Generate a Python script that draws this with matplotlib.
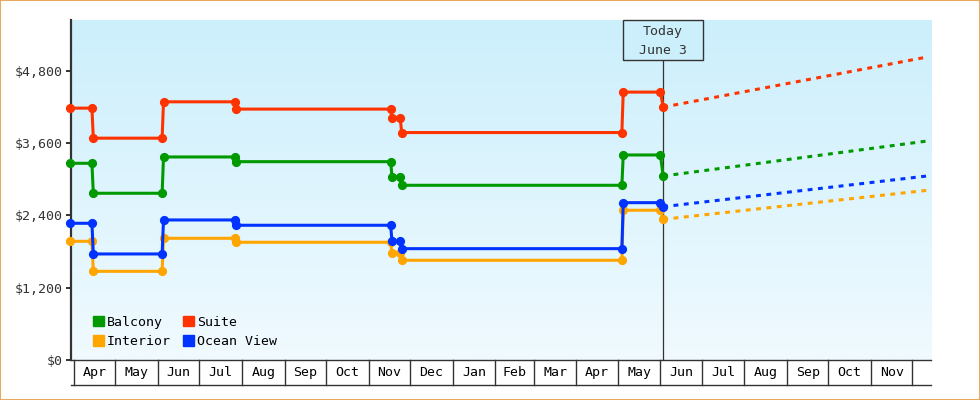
import matplotlib
matplotlib.use("Agg")
import matplotlib.pyplot as plt
import matplotlib.dates as mdates
import matplotlib.transforms as mtransforms
from matplotlib.patches import Patch, Rectangle
from matplotlib.offsetbox import DrawingArea, AnnotationBbox
from matplotlib.text import Text
from matplotlib.ticker import FuncFormatter
import numpy as np
import pandas as pd

plt.rcParams['font.family'] = ['DejaVu Sans Mono', 'DejaVu Sans']

# price history (same change dates for every cabin type)
dates = pd.to_datetime([
    "2014-03-29", "2014-04-14", "2014-04-15", "2014-06-04", "2014-06-05",
    "2014-07-27", "2014-07-28", "2014-11-17", "2014-11-18", "2014-11-24",
    "2014-11-25", "2015-05-04", "2015-05-05", "2015-06-01", "2015-06-03",
])
interior = [1969, 1969, 1471, 1471, 2019, 2019, 1953, 1953, 1770, 1770, 1654, 1654, 2484, 2484, 2334]
ocean_view = [2268, 2268, 1759, 1759, 2323, 2323, 2235, 2235, 1969, 1969, 1847, 1847, 2610, 2610, 2543]
balcony = [3263, 3263, 2766, 2766, 3368, 3368, 3290, 3290, 3041, 3041, 2898, 2898, 3401, 3401, 3052]
suite = [4178, 4178, 3680, 3680, 4283, 4283, 4162, 4162, 4012, 4012, 3773, 3773, 4444, 4444, 4195]

# projection from today
forecast_dates = pd.to_datetime(["2015-06-03", "2015-12-12"])
interior_fc = [2334, 2815]
ocean_view_fc = [2543, 3053]
balcony_fc = [3052, 3633]
suite_fc = [4195, 5027]

today = pd.Timestamp("2015-06-03")
y_ticks = [0, 1200, 2400, 3600, 4800]
month_starts = pd.date_range("2014-04-01", "2015-12-01", freq="MS")

series = [
    ("Interior", interior, interior_fc, "#FFA500"),
    ("Ocean View", ocean_view, ocean_view_fc, "#0033FF"),
    ("Balcony", balcony, balcony_fc, "#009900"),
    ("Suite", suite, suite_fc, "#FF3300"),
]
ink = "#333333"

fig = plt.figure(figsize=(9.8, 4), dpi=100)
ax = fig.add_axes([71 / 980, 40 / 400, 860 / 980, 340 / 400])

# vertical gradient background
grad = np.linspace(0, 1, 256).reshape(-1, 1)
top = np.array([204, 239, 252]) / 255
bottom = np.array([240, 250, 255]) / 255
img = top * (1 - grad[..., None]) + bottom * grad[..., None]
ax.imshow(img, extent=[0, 1, 0, 1], transform=ax.transAxes, aspect="auto", zorder=0)

for name, vals, fc, color in series:
    ax.plot(dates, vals, color=color, lw=2.2, marker="o", ms=5.6,
            solid_joinstyle="miter", zorder=3, clip_on=False)
    ax.plot(forecast_dates, fc, color=color, lw=2.2, linestyle=(0, (1.6, 1.8)), zorder=3)

ax.set_xlim(pd.Timestamp("2014-03-29 19:00"), pd.Timestamp("2015-12-14 14:00"))
ax.set_ylim(0, 5640)
ax.set_yticks(y_ticks)
ax.yaxis.set_major_formatter(FuncFormatter(lambda v, p: f"${v:,.0f}"))
ax.tick_params(axis="y", length=3.6, width=1.4, color=ink, labelcolor=ink,
               labelsize=9.5, pad=2)
ax.set_xticks([])
for s in ["top", "right"]:
    ax.spines[s].set_visible(False)
ax.spines["left"].set_color(ink)
ax.spines["left"].set_linewidth(1.6)
ax.spines["bottom"].set_color(ink)
ax.spines["bottom"].set_linewidth(1.0)

# month label boxes under the axis
trans = mtransforms.blended_transform_factory(ax.transData, ax.transAxes)
box_h = 25 / 340
for ms in month_starts:
    ax.plot([ms, ms], [0, -box_h], transform=trans, color=ink, lw=1.0, clip_on=False)
for a, b in zip(month_starts[:-1], month_starts[1:]):
    ax.text(a + (b - a) / 2, -box_h / 2, a.strftime("%b"), transform=trans,
            ha="center", va="center", fontsize=9.5, color="black")
ax.plot([0, 1], [-box_h, -box_h], transform=ax.transAxes, color=ink, lw=1.0, clip_on=False)

# today marker
ax.axvline(today, color=ink, lw=0.9, zorder=2)
da = DrawingArea(57.6, 28.8, 0, 0)
da.add_artist(Text(28.8, 20.6, "Today", ha="center", va="center", fontsize=9.5, color=ink))
da.add_artist(Text(28.8, 7.0, "June 3", ha="center", va="center", fontsize=9.5, color=ink))
ab = AnnotationBbox(da, (mdates.date2num(today), 1.0), xycoords=trans,
                    box_alignment=(0.5, 1.0), pad=0, frameon=True,
                    bboxprops=dict(fc="#CCEFFC", ec=ink, lw=1.0), zorder=5)
ax.add_artist(ab)

# legend
colors = {n: c for n, _, _, c in series}
order = ["Balcony", "Interior", "Suite", "Ocean View"]
handles = [Patch(color=colors[n], label=n) for n in order]
ax.legend(handles=handles, ncol=2, loc="lower left", bbox_to_anchor=(0.0256, 0.035),
          frameon=False, borderpad=0, borderaxespad=0, handlelength=0.8,
          handleheight=0.8, handletextpad=0.25, columnspacing=0.95,
          labelspacing=0.5, fontsize=9.5)

fig.patches.append(Rectangle((0, 0), 1, 1, transform=fig.transFigure, fill=False,
                             ec="#E9A95F", lw=1.5))

fig.savefig("out.png", dpi=100)
